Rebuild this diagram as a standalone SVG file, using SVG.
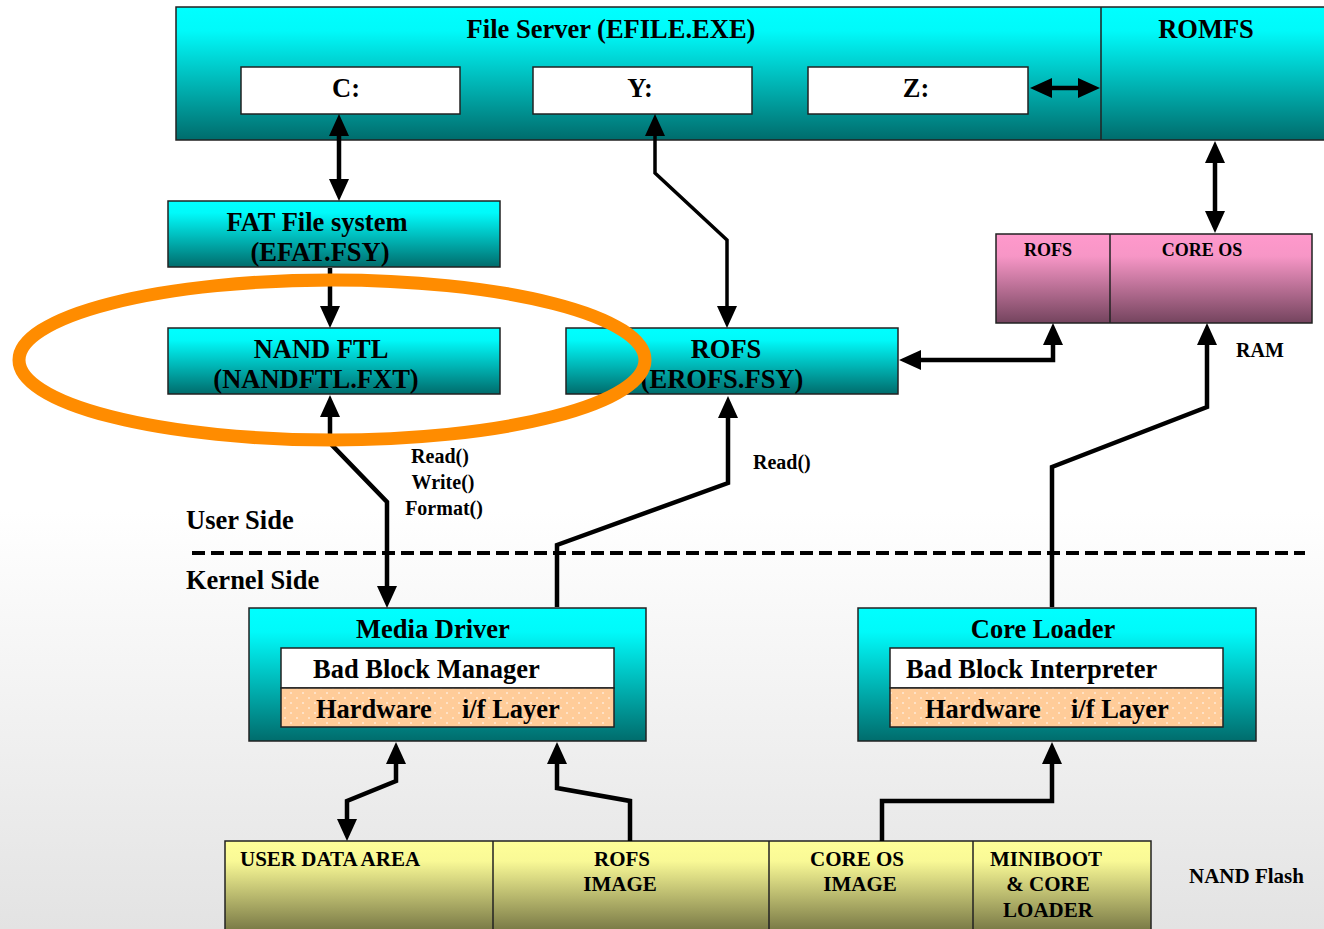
<svg xmlns="http://www.w3.org/2000/svg" width="1324" height="929" viewBox="0 0 1324 929">
<defs>
<linearGradient id="bg" x1="0" y1="0" x2="0" y2="1">
<stop offset="0" stop-color="#ffffff"/><stop offset="0.55" stop-color="#ffffff"/><stop offset="1" stop-color="#e3e3e3"/>
</linearGradient>
<linearGradient id="cyan" x1="0" y1="0" x2="0" y2="1">
<stop offset="0" stop-color="#00ffff"/><stop offset="0.18" stop-color="#00fafa"/><stop offset="1" stop-color="#006c6c"/>
</linearGradient>
<linearGradient id="pink" x1="0" y1="0" x2="0" y2="1">
<stop offset="0" stop-color="#ff99cc"/><stop offset="0.25" stop-color="#f796c6"/><stop offset="1" stop-color="#74445e"/>
</linearGradient>
<linearGradient id="yellow" x1="0" y1="0" x2="0" y2="1">
<stop offset="0" stop-color="#ffff99"/><stop offset="0.2" stop-color="#f9f996"/><stop offset="1" stop-color="#66663a"/>
</linearGradient>
<pattern id="dots" width="12" height="10" patternUnits="userSpaceOnUse">
<rect width="12" height="10" fill="#ffcc99"/>
<circle cx="3" cy="3" r="0.8" fill="#ffffff"/>
<circle cx="9" cy="8" r="0.8" fill="#ffffff"/>
</pattern>
<marker id="ah" markerUnits="userSpaceOnUse" markerWidth="22" markerHeight="20" refX="0" refY="10" orient="auto-start-reverse" overflow="visible">
<path d="M0,0 L22,10 L0,20 Z" fill="#000"/>
</marker>
<style>
.box{stroke:#222;stroke-width:1.5}
.cy{fill:url(#cyan)}
.wh{fill:#fff}
.t{font-family:"Liberation Serif","Times New Roman",serif;font-weight:bold;fill:#000}
.big{font-size:26.5px}
.mid{font-size:20px}
.yl{font-size:21px}
.sm{font-size:18px}
.c{text-anchor:middle}
.ln{fill:none;stroke:#000;stroke-width:4.5;stroke-linejoin:miter}
.ln2{fill:none;stroke:#000;stroke-width:3.5}
</style>
</defs>
<rect x="0" y="0" width="1324" height="929" fill="url(#bg)"/>

<g id="file-server">
<rect class="box cy" x="176" y="7" width="1160" height="133"/>
<line x1="1101" y1="7" x2="1101" y2="140" stroke="#222" stroke-width="1.5"/>
<text class="t big c" x="611" y="38">File Server (EFILE.EXE)</text>
<text class="t big c" x="1206" y="38">ROMFS</text>
</g>
<g id="drive-c"><rect class="box wh" x="241" y="67" width="219" height="47"/><text class="t big c" x="346" y="97">C:</text></g>
<g id="drive-y"><rect class="box wh" x="533" y="67" width="219" height="47"/><text class="t big c" x="640" y="97">Y:</text></g>
<g id="drive-z"><rect class="box wh" x="808" y="67" width="220" height="47"/><text class="t big c" x="916" y="97">Z:</text></g>

<g id="fat">
<rect class="box cy" x="168" y="201" width="332" height="66"/>
<text class="t big c" x="317" y="231">FAT File system</text>
<text class="t big c" x="320" y="261">(EFAT.FSY)</text>
</g>
<g id="nandftl">
<rect class="box cy" x="168" y="328" width="332" height="66"/>
<text class="t big c" x="321" y="358">NAND FTL</text>
<text class="t big c" x="316" y="388">(NANDFTL.FXT)</text>
</g>
<g id="rofs">
<rect class="box cy" x="566" y="328" width="332" height="66"/>
<text class="t big c" x="726" y="358">ROFS</text>
<text class="t big c" x="722" y="388">(EROFS.FSY)</text>
</g>
<g id="ram">
<rect class="box" fill="url(#pink)" x="996" y="234" width="316" height="89"/>
<line x1="1110" y1="234" x2="1110" y2="323" stroke="#222" stroke-width="1.5"/>
<text class="t sm c" x="1048" y="256">ROFS</text>
<text class="t sm c" x="1202" y="256">CORE OS</text>
<text class="t mid" x="1236" y="357">RAM</text>
</g>

<g id="media-driver">
<rect class="box cy" x="249" y="608" width="397" height="133"/>
<text class="t big c" x="433" y="638">Media Driver</text>
<rect class="box wh" x="281" y="648" width="333" height="40"/>
<text class="t big" x="313" y="678">Bad Block Manager</text>
<rect class="box" fill="url(#dots)" x="281" y="688" width="333" height="39"/>
<text class="t big" x="316" y="718">Hardware</text>
<text class="t big" x="462" y="718">i/f Layer</text>
</g>
<g id="core-loader">
<rect class="box cy" x="858" y="608" width="398" height="133"/>
<text class="t big c" x="1043" y="638">Core Loader</text>
<rect class="box wh" x="890" y="648" width="333" height="40"/>
<text class="t big" x="906" y="678">Bad Block Interpreter</text>
<rect class="box" fill="url(#dots)" x="890" y="688" width="333" height="39"/>
<text class="t big" x="925" y="718">Hardware</text>
<text class="t big" x="1071" y="718">i/f Layer</text>
</g>

<g id="nand-flash">
<rect class="box" fill="url(#yellow)" x="225" y="841" width="926" height="100"/>
<line x1="493" y1="841" x2="493" y2="941" stroke="#222" stroke-width="1.5"/>
<line x1="769" y1="841" x2="769" y2="941" stroke="#222" stroke-width="1.5"/>
<line x1="973" y1="841" x2="973" y2="941" stroke="#222" stroke-width="1.5"/>
<text class="t yl" x="240" y="866">USER DATA AREA</text>
<text class="t yl c" x="622" y="866">ROFS</text>
<text class="t yl c" x="620" y="891">IMAGE</text>
<text class="t yl c" x="857" y="866">CORE OS</text>
<text class="t yl c" x="860" y="891">IMAGE</text>
<text class="t yl c" x="1046" y="866">MINIBOOT</text>
<text class="t yl c" x="1048" y="891">&amp; CORE</text>
<text class="t yl c" x="1048" y="917">LOADER</text>
<text class="t yl" x="1189" y="883">NAND Flash</text>
</g>

<g id="labels">
<text class="t big" x="186" y="529">User Side</text>
<text class="t big" x="186" y="589">Kernel Side</text>
<text class="t mid c" x="440" y="463">Read()</text>
<text class="t mid c" x="443" y="489">Write()</text>
<text class="t mid c" x="444" y="515">Format()</text>
<text class="t mid" x="753" y="469">Read()</text>
</g>

<g id="connectors">
<line x1="192" y1="553" x2="1305" y2="553" stroke="#000" stroke-width="4" stroke-dasharray="13 6"/>
<path class="ln" d="M339,136 L339,179" marker-start="url(#ah)" marker-end="url(#ah)"/>
<path class="ln2" d="M655,136 L655,173 L727,240 L727,306" marker-start="url(#ah)" marker-end="url(#ah)"/>
<path class="ln" d="M1052,88 L1078,88" marker-start="url(#ah)" marker-end="url(#ah)"/>
<path class="ln" d="M1215,163 L1215,211" marker-start="url(#ah)" marker-end="url(#ah)"/>
<path class="ln" d="M330,268 L330,306" marker-end="url(#ah)"/>
<path class="ln" d="M330,417 L330,443 L387,502 L387,586" marker-start="url(#ah)" marker-end="url(#ah)"/>
<path class="ln" d="M557,607 L557,545 L728,483 L728,418" marker-end="url(#ah)"/>
<path class="ln" d="M921,360 L1053,360 L1053,345" marker-start="url(#ah)" marker-end="url(#ah)"/>
<path class="ln" d="M1052,607 L1052,467 L1207,407 L1207,345" marker-end="url(#ah)"/>
<path class="ln" d="M396,764 L396,781 L347,801 L347,819" marker-start="url(#ah)" marker-end="url(#ah)"/>
<path class="ln" d="M630,841 L630,801 L557,788 L557,764" marker-end="url(#ah)"/>
<path class="ln" d="M882,841 L882,801 L1052,801 L1052,764" marker-end="url(#ah)"/>
</g>

<g id="highlight">
<ellipse cx="332" cy="360" rx="313" ry="80" fill="none" stroke="#ff8c00" stroke-width="13"/>
</g>
</svg>
